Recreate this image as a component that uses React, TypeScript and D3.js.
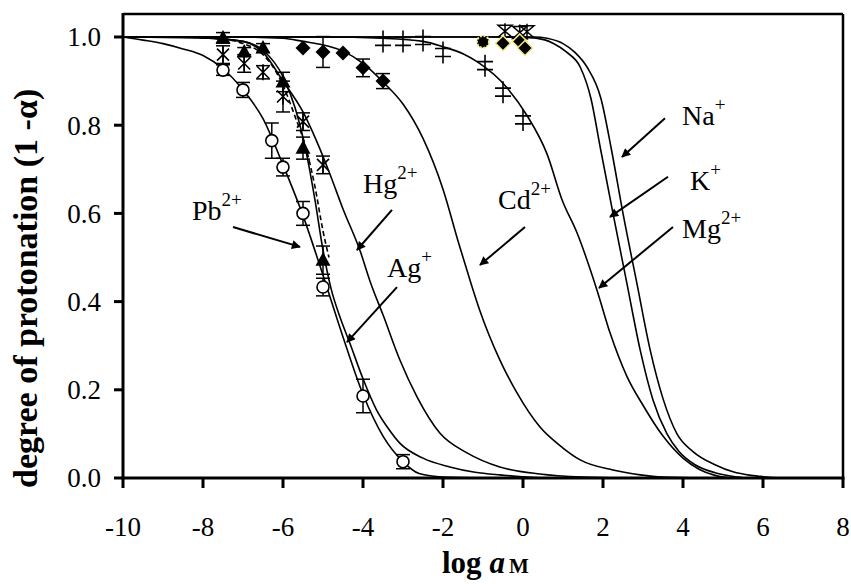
import React from "react";
import * as d3 from "d3";

type P = [number, number];

// ---- fitted curves (log aM, 1-alpha) ----
const pbCurve: P[] = [[-10,1],[-9.5,0.993],[-9,0.985],[-8.5,0.973],[-8,0.958],[-7.5,0.928],[-7,0.88],[-6.5,0.815],[-6,0.71],[-5.5,0.595],[-5,0.46],[-4.5,0.32],[-4,0.19],[-3.5,0.095],[-3,0.037],[-2.6,0.01],[-2,0.002],[-1,0]];
const agCurve: P[] = [[-10,1],[-8,0.998],[-7,0.99],[-6.5,0.97],[-6,0.91],[-5.7,0.84],[-5.4,0.73],[-5.2,0.63],[-5,0.517],[-4.8,0.43],[-4.58,0.366],[-4.33,0.306],[-4,0.225],[-3.66,0.154],[-3.35,0.11],[-3.08,0.079],[-2.5,0.045],[-1.83,0.025],[-1.2,0.013],[-0.58,0.007],[0,0.003],[0.5,0]];
const agDashCurve: P[] = [[-8.5,1],[-7.5,0.995],[-7,0.985],[-6.5,0.96],[-6.2,0.925],[-6,0.89],[-5.7,0.82],[-5.4,0.74],[-5.2,0.66],[-5,0.56],[-4.85,0.5]];
const hgCurve: P[] = [[-10,1],[-8,0.998],[-7,0.99],[-6.5,0.965],[-6,0.9],[-5.5,0.83],[-5.17,0.766],[-4.83,0.69],[-4.5,0.61],[-4.08,0.517],[-3.8,0.44],[-3.5,0.37],[-3.08,0.268],[-2.65,0.184],[-2.08,0.102],[-1.4,0.057],[-0.58,0.025],[0.42,0.009],[1.5,0.002],[2.5,0]];
const cdCurve: P[] = [[-10,1],[-7,1],[-6,0.997],[-5.5,0.99],[-5,0.982],[-4.5,0.968],[-4,0.94],[-3.5,0.898],[-3,0.848],[-2.5,0.77],[-2,0.655],[-1.6,0.53],[-1.33,0.45],[-1.08,0.38],[-0.58,0.268],[-0.15,0.193],[0.42,0.116],[1,0.068],[1.43,0.041],[2.25,0.018],[2.93,0.007],[3.5,0.002],[4.5,0]];
const mgCurve: P[] = [[-10,1],[-5,1],[-3.5,0.997],[-2.5,0.99],[-2,0.978],[-1.5,0.962],[-1.15,0.944],[-0.4,0.885],[0.1,0.822],[0.6,0.735],[0.98,0.63],[1.35,0.556],[1.85,0.426],[2.18,0.328],[2.6,0.23],[3,0.165],[3.5,0.095],[4,0.045],[4.4,0.02],[4.8,0.006],[5.2,0]];
const kCurve: P[] = [[-10,1],[0,1],[0.3,0.998],[0.75,0.986],[1.1,0.965],[1.43,0.932],[1.7,0.86],[1.93,0.75],[2.25,0.6],[2.6,0.44],[2.93,0.29],[3.25,0.177],[3.6,0.1],[3.9,0.06],[4.3,0.03],[4.8,0.012],[5.3,0.003],[5.6,0]];
const naCurve: P[] = [[-10,1],[0.3,1],[0.6,0.997],[1,0.985],[1.3,0.965],[1.6,0.932],[1.95,0.86],[2.2,0.75],[2.5,0.6],[2.85,0.44],[3.18,0.29],[3.5,0.18],[3.85,0.1],[4.25,0.06],[4.8,0.03],[5.25,0.014],[5.7,0.006],[6,0.003],[6.5,0]];

// ---- measured points: [x, y, error] ----
const pbPoints: [number, number, number][] = [[-7.5,0.925,0.012],[-7,0.88,0.017],[-6.28,0.765,0.04],[-6,0.705,0.02],[-5.5,0.6,0.027],[-5,0.433,0.02],[-4,0.186,0.038],[-3,0.037,0.016]];
const agPoints: [number, number, number][] = [[-7.5,0.998,0.012],[-6.97,0.966,0.01],[-6.5,0.975,0.01],[-6,0.898,0.022],[-5.5,0.748,0.025],[-5,0.494,0.032]];
const hgPoints: [number, number, number][] = [[-7.5,0.96,0.02],[-6.97,0.94,0.02],[-6.5,0.92,0.015],[-6,0.865,0.035],[-5.5,0.808,0.02],[-5,0.71,0.02]];
const cdPoints: [number, number, number][] = [[-5.5,0.975,0],[-5,0.966,0.035],[-4.5,0.964,0],[-4,0.93,0.02],[-3.5,0.9,0.017]];
const mgPoints: [number, number][] = [[-3.5,0.99],[-3,0.99],[-2.5,0.992],[-2,0.965],[-0.95,0.935],[-0.5,0.875],[0,0.812]];
const alkaliDiamonds: P[] = [[-0.5,0.986],[-0.08,0.99],[0.05,0.975]];
const alkaliStars: P[] = [[-1,0.989]];
const alkaliCrosses: P[] = [[-0.45,1.013],[-0.08,1.01],[0.1,1.012]];

// ---- axes ----
const xTicks = [-10, -8, -6, -4, -2, 0, 2, 4, 6, 8];
const yTicks = [0, 0.2, 0.4, 0.6, 0.8, 1.0];

// ---- annotations: label, superscript, text pos, arrow start, arrow tip (data coords) ----
const labels = [
  { name: "Pb", sup: "2+", at: [-8.275, 0.585], from: [-7.25, 0.569], to: [-5.575, 0.524] },
  { name: "Hg", sup: "2+", at: [-4.0, 0.646], from: [-3.275, 0.608], to: [-4.15, 0.517] },
  { name: "Ag", sup: "+", at: [-3.4, 0.456], from: [-3.15, 0.433], to: [-4.4, 0.308] },
  { name: "Cd", sup: "2+", at: [-0.625, 0.61], from: [0.05, 0.569], to: [-1.075, 0.483] },
  { name: "Na", sup: "+", at: [3.975, 0.8], from: [3.55, 0.816], to: [2.475, 0.728] },
  { name: "K", sup: "+", at: [4.175, 0.653], from: [3.625, 0.683], to: [2.175, 0.592] },
  { name: "Mg", sup: "2+", at: [3.975, 0.544], from: [3.75, 0.569], to: [1.9, 0.431] },
];

const W = 851, H = 584;
const L = 123, R = 843, T = 14, B = 478;
const FONT = "'Liberation Serif', 'Times New Roman', serif";

export default function App() {
  const x = d3.scaleLinear().domain([-10, 8]).range([L, R]);
  const y = d3.scaleLinear().domain([0, 1]).range([B, 37]);
  const line = d3.line<P>().x(d => x(d[0])).y(d => y(d[1])).curve(d3.curveMonotoneX);

  const curves: { d: P[]; dash?: string }[] = [
    { d: pbCurve }, { d: agCurve }, { d: agDashCurve, dash: "5,3" }, { d: hgCurve },
    { d: cdCurve }, { d: mgCurve }, { d: kCurve }, { d: naCurve },
  ];

  const errBar = (px: number, py: number, e: number, key: string) => {
    if (!e) return null;
    const y1 = y(py + e), y2 = y(py - e), xx = x(px);
    return (
      <g key={key} stroke="#000" strokeWidth={1.5}>
        <line x1={xx} x2={xx} y1={y1} y2={y2} />
        <line x1={xx - 7} x2={xx + 7} y1={y1} y2={y1} />
        <line x1={xx - 7} x2={xx + 7} y1={y2} y2={y2} />
      </g>
    );
  };

  const tri = "M0,-8L7.5,5.5L-7.5,5.5Z";
  const dia = "M0,-7.5L7.5,0L0,7.5L-7.5,0Z";
  const ast = "M0,-8V8M-6,-6L6,6M-6,6L6,-6";
  const dbl = "M0,-11V11M-8,-4H8M-8,4H8";
  const hour = "M-7,-6H7L-7,6H7ZM0,-8V8";

  return (
    <svg width={W} height={H} style={{ position: "absolute", left: 0, top: 0, background: "#fff" }} fontFamily={FONT}>
      <defs>
        <marker id="ah" viewBox="0 0 10 10" refX="9" refY="5" markerWidth="11" markerHeight="9" markerUnits="userSpaceOnUse" orient="auto">
          <path d="M0,0L10,5L0,10Z" fill="#000" />
        </marker>
      </defs>
      <rect x={0} y={0} width={W} height={H} fill="#fff" />

      {/* curves */}
      {curves.map((c, i) => (
        <path key={i} d={line(c.d) || ""} fill="none" stroke="#000" strokeWidth={1.6} strokeDasharray={c.dash} />
      ))}

      {/* error bars */}
      {pbPoints.map((p, i) => errBar(p[0], p[1], p[2], "pbe" + i))}
      {agPoints.map((p, i) => errBar(p[0], p[1], p[2], "age" + i))}
      {hgPoints.map((p, i) => errBar(p[0], p[1], p[2], "hge" + i))}
      {cdPoints.map((p, i) => errBar(p[0], p[1], p[2], "cde" + i))}

      {/* markers */}
      {pbPoints.map((p, i) => (
        <circle key={"pb" + i} cx={x(p[0])} cy={y(p[1])} r={6} fill="#fff" stroke="#000" strokeWidth={1.6} />
      ))}
      {agPoints.map((p, i) => (
        <path key={"ag" + i} d={tri} transform={`translate(${x(p[0])},${y(p[1])})`} fill="#000" />
      ))}
      {hgPoints.map((p, i) => (
        <path key={"hg" + i} d={ast} transform={`translate(${x(p[0])},${y(p[1])})`} fill="none" stroke="#000" strokeWidth={1.6} />
      ))}
      {cdPoints.map((p, i) => (
        <path key={"cd" + i} d={dia} transform={`translate(${x(p[0])},${y(p[1])})`} fill="#000" />
      ))}
      {mgPoints.map((p, i) => (
        <path key={"mg" + i} d={dbl} transform={`translate(${x(p[0])},${y(p[1])})`} fill="none" stroke="#000" strokeWidth={1.6} />
      ))}
      {alkaliCrosses.map((p, i) => (
        <path key={"ac" + i} d={hour} transform={`translate(${x(p[0])},${y(p[1])})`} fill="none" stroke="#000" strokeWidth={1.5} />
      ))}
      {alkaliStars.map((p, i) => (
        <circle key={"as" + i} cx={x(p[0])} cy={y(p[1])} r={6} fill="#000" stroke="#f2ea8a" strokeWidth={2} strokeDasharray="2,1.5" />
      ))}
      {alkaliDiamonds.map((p, i) => (
        <path key={"ad" + i} d={dia} transform={`translate(${x(p[0])},${y(p[1])})`} fill="#000" stroke="#f2ea8a" strokeWidth={1.5} />
      ))}

      {/* frame */}
      <line x1={L} x2={R} y1={T} y2={T} stroke="#000" strokeWidth={2.5} />
      <line x1={R} x2={R} y1={T} y2={B} stroke="#000" strokeWidth={2.5} />
      <line x1={L} x2={L} y1={T - 1} y2={B + 1.5} stroke="#000" strokeWidth={3} />
      <line x1={L - 1.5} x2={R + 1.5} y1={B} y2={B} stroke="#000" strokeWidth={3} />

      {/* y ticks */}
      {yTicks.map(t => (
        <g key={"yt" + t}>
          <line x1={L - 9} x2={L} y1={y(t)} y2={y(t)} stroke="#000" strokeWidth={3} />
          <text x={101} y={y(t)} dy="0.35em" textAnchor="end" fontSize={27}>{t.toFixed(1)}</text>
        </g>
      ))}
      {/* x ticks */}
      {xTicks.map(t => (
        <g key={"xt" + t}>
          <line x1={x(t)} x2={x(t)} y1={B} y2={B + 10} stroke="#000" strokeWidth={3} />
          <text x={x(t)} y={536} textAnchor="middle" fontSize={27}>{t < 0 ? "-" + Math.abs(t) : String(t)}</text>
        </g>
      ))}

      {/* axis titles */}
      <text transform="translate(37,488) rotate(-90)" textAnchor="start" fontSize={34} fontWeight="bold">
        degree of protonation (1 -α)
      </text>
      <text x={442} y={573} textAnchor="start" fontSize={31} fontWeight="bold">
        log <tspan fontStyle="italic">a</tspan><tspan fontSize={21} dx={4}>M</tspan>
      </text>

      {/* annotations */}
      {labels.map(l => (
        <g key={l.name}>
          <line x1={x(l.from[0])} y1={y(l.from[1])} x2={x(l.to[0])} y2={y(l.to[1])} stroke="#000" strokeWidth={2} markerEnd="url(#ah)" />
          <text x={x(l.at[0])} y={y(l.at[1])} fontSize={28}>
            {l.name}
            <tspan fontSize={19} dy={-14}>{l.sup}</tspan>
          </text>
        </g>
      ))}
    </svg>
  );
}
